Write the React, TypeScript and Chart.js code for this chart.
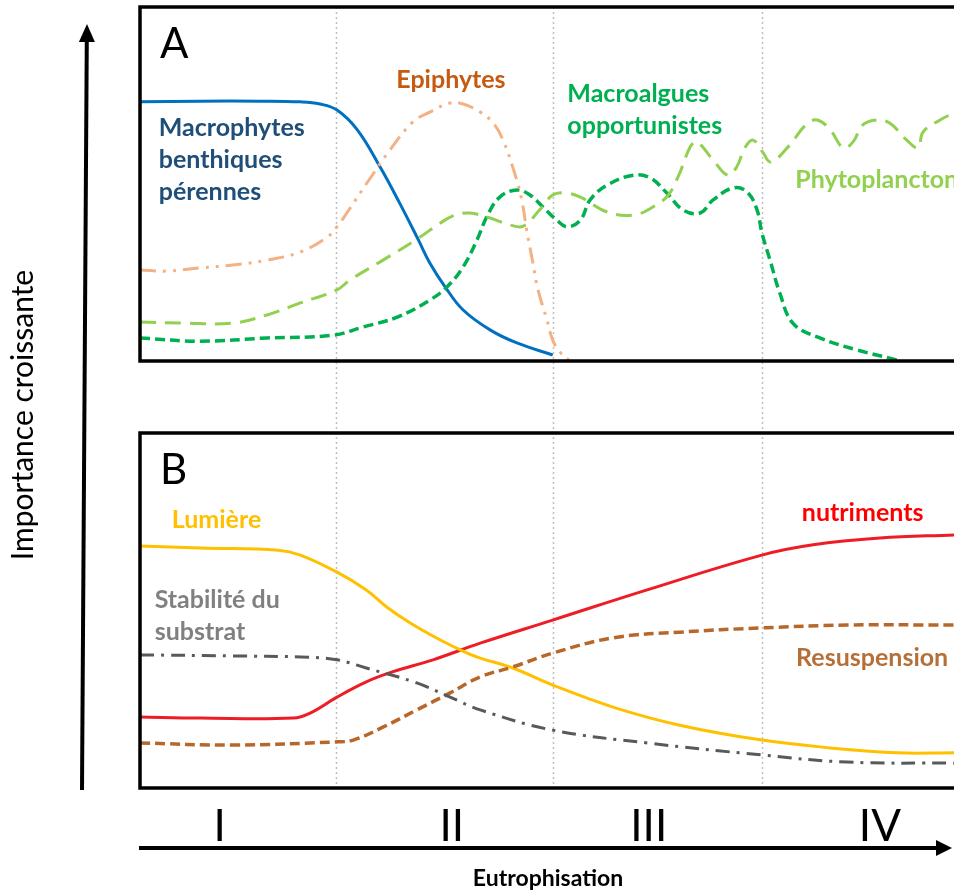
import React, { useEffect, useRef } from 'react';
import { Chart, registerables } from 'chart.js';

Chart.register(...registerables);

// ---------- Data (x: eutrophisation level 0-100, y: relative importance 0-100) ----------
const stageLabels = ['I', 'II', 'III', 'IV'];
const stageCenters = [9.8, 38.3, 62.5, 90.9];
const stageBoundaries = [24.1, 50.7, 76.4];

// Panel A
const macrophytesX = [0, 7.4, 14.7, 19.7, 22.1, 24.2, 26.7, 29.5, 31.9, 34.2, 35.6, 37.5, 39.7, 43.0, 46.3, 50.7];
const macrophytesY = [73.2, 73.4, 73.4, 73.2, 72.6, 70.9, 65.3, 54.8, 44.6, 34.2, 27.7, 20.9, 14.4, 8.8, 5.1, 1.7];

const epiphytesX = [0, 3.3, 7.4, 11.4, 15.6, 19.7, 23.0, 24.2, 25.4, 28.3, 30.7, 33.5, 35.6, 38.1, 39.7, 41.8, 43.4, 44.6, 46.1, 46.9, 47.5, 48.2, 48.9, 50.0, 50.7, 51.6, 52.8];
const epiphytesY = [25.7, 25.4, 26.3, 27.1, 28.5, 30.8, 35.0, 37.9, 41.8, 51.7, 59.6, 67.5, 70.3, 72.9, 72.6, 70.3, 67.2, 62.4, 52.5, 45.5, 37.0, 28.5, 20.1, 11.6, 5.9, 2.5, 0];

const phytoX = [0, 5.3, 11.4, 15.6, 19.7, 24.2, 25.8, 29.5, 34.2, 36.9, 38.7, 40.5, 43.0, 45.5, 47.1, 49.1, 50.7, 52.2, 54.1, 57.4, 60.6, 63.0, 64.9, 66.3, 67.6, 68.4, 70.4, 72.2, 73.3, 74.3, 75.3, 76.5, 77.5, 79.7, 81.8, 83.2, 84.8, 86.4, 87.6, 88.8, 90.5, 92.1, 94.2, 95.6, 96.2, 98.3, 100];
const phytoY = [11.0, 10.7, 10.7, 13.0, 16.4, 20.1, 22.9, 28.0, 34.7, 39.0, 41.2, 41.8, 40.4, 38.4, 38.1, 42.7, 46.9, 47.5, 46.3, 42.1, 41.2, 43.5, 46.9, 53.1, 60.5, 61.9, 56.8, 52.5, 54.8, 60.2, 62.4, 59.0, 56.2, 60.7, 66.7, 68.1, 65.3, 60.2, 61.9, 66.7, 68.1, 67.2, 62.4, 60.2, 64.7, 68.1, 70.1];

const macroalguesX = [0, 7.4, 15.6, 23.7, 27.4, 31.6, 35.6, 37.7, 39.7, 41.4, 42.6, 44.2, 46.3, 47.9, 49.5, 51.2, 52.5, 54.1, 55.3, 57.4, 60.6, 62.7, 64.7, 66.7, 68.8, 70.4, 72.9, 74.6, 75.8, 76.4, 77.4, 78.6, 80.2, 83.2, 88.1, 92.1, 93.4];
const macroalguesY = [6.5, 5.6, 6.5, 7.3, 9.6, 12.4, 17.2, 20.9, 26.6, 34.2, 40.7, 46.3, 48.3, 46.9, 43.5, 39.8, 37.9, 39.8, 45.5, 49.7, 52.5, 51.7, 47.5, 42.7, 41.8, 45.5, 48.9, 47.7, 42.7, 36.2, 28.5, 19.2, 10.7, 6.8, 3.1, 0.8, 0];

// Panel B
const lumiereX = [0, 7.4, 17.0, 19.7, 24.2, 27.8, 30.3, 33.2, 36.9, 40.2, 41.8, 45.8, 50.7, 58.1, 66.3, 76.4, 84.8, 93.0, 100];
const lumiereY = [68.2, 67.6, 67.0, 65.6, 60.8, 55.8, 51.0, 46.5, 41.7, 38.0, 36.6, 33.8, 29.0, 22.8, 17.7, 13.5, 11.3, 9.9, 9.9];

const stabiliteX = [0, 11.4, 19.7, 24.2, 27.8, 34.0, 38.1, 41.8, 50.7, 62.3, 76.4, 86.9, 100];
const stabiliteY = [37.5, 37.2, 36.9, 36.1, 33.8, 29.6, 25.6, 22.0, 16.3, 12.7, 9.3, 7.3, 7.0];

const nutrimentsX = [0, 7.4, 18.8, 20.9, 24.2, 27.8, 31.0, 36.0, 41.8, 50.7, 62.3, 76.4, 82.7, 90.9, 100];
const nutrimentsY = [20.0, 19.7, 19.7, 21.1, 25.6, 29.9, 32.7, 36.1, 40.8, 47.3, 55.8, 65.6, 68.5, 70.4, 71.3];

const resuspensionX = [0, 11.4, 24.2, 26.2, 29.9, 34.0, 38.1, 41.8, 45.8, 50.7, 58.1, 66.3, 76.4, 86.9, 100];
const resuspensionY = [12.7, 12.1, 13.0, 13.5, 17.2, 22.0, 26.8, 31.3, 34.1, 38.0, 42.3, 43.9, 45.1, 45.9, 45.9];

// ---------- Layout / style ----------
const W = 954;
const H = 890;
const PANEL_LEFT = 140;
const PANEL_A = { top: 7, bottom: 361 };
const PANEL_B = { top: 433, bottom: 788 };
const FONT = 'Lato, "Open Sans", "DejaVu Sans", sans-serif';

const pts = (xs: number[], ys: number[]) => xs.map((x, i) => ({ x, y: ys[i] }));

type Label = { lines: string[]; x: number; y: number; color: string; align: CanvasTextAlign };

const labelsA: Label[] = [
  { lines: ['Macrophytes', 'benthiques', 'pérennes'], x: 2.3, y: 65.8, color: '#1F4E79', align: 'left' },
  { lines: ['Epiphytes'], x: 38.2, y: 79.4, color: '#C55A11', align: 'center' },
  { lines: ['Macroalgues', 'opportunistes'], x: 52.5, y: 75.4, color: '#00B050', align: 'left' },
  { lines: ['Phytoplancton'], x: 80.5, y: 51.1, color: '#92D050', align: 'left' },
];
const labelsB: Label[] = [
  { lines: ['Lumière'], x: 3.9, y: 75.5, color: '#FFC000', align: 'left' },
  { lines: ['Stabilité du', 'substrat'], x: 1.8, y: 53.0, color: '#808080', align: 'left' },
  { lines: ['nutriments'], x: 81.3, y: 77.5, color: '#FF0000', align: 'left' },
  { lines: ['Resuspension'], x: 80.6, y: 36.6, color: '#B5703A', align: 'left' },
];

function drawLabels(chart: any, labels: Label[]) {
  const { ctx, scales } = chart;
  ctx.save();
  ctx.font = `bold 25px ${FONT}`;
  ctx.textBaseline = 'middle';
  labels.forEach((l) => {
    ctx.fillStyle = l.color;
    ctx.textAlign = l.align;
    const px = scales.x.getPixelForValue(l.x);
    const py = scales.y.getPixelForValue(l.y);
    l.lines.forEach((t, i) => ctx.fillText(t, px, py + i * 32));
  });
  ctx.restore();
}

function drawFrame(chart: any, letter: string) {
  const { ctx, chartArea } = chart;
  ctx.save();
  ctx.strokeStyle = '#000';
  ctx.lineWidth = 3.5;
  ctx.lineCap = 'square';
  ctx.beginPath();
  ctx.moveTo(chartArea.right + 5, chartArea.top);
  ctx.lineTo(chartArea.left, chartArea.top);
  ctx.lineTo(chartArea.left, chartArea.bottom);
  ctx.lineTo(chartArea.right + 5, chartArea.bottom);
  ctx.stroke();
  ctx.fillStyle = '#000';
  ctx.font = `42px ${FONT}`;
  ctx.textAlign = 'left';
  ctx.textBaseline = 'alphabetic';
  ctx.fillText(letter, chartArea.left + 20, chartArea.top + 51);
  ctx.restore();
}

function arrowHead(ctx: CanvasRenderingContext2D, tipX: number, tipY: number, dirX: number, dirY: number, len: number, half: number) {
  const bx = tipX - dirX * len;
  const by = tipY - dirY * len;
  ctx.beginPath();
  ctx.moveTo(tipX, tipY);
  ctx.lineTo(bx - dirY * half, by + dirX * half);
  ctx.lineTo(bx + dirY * half, by - dirX * half);
  ctx.closePath();
  ctx.fill();
}

const panelAPlugin = {
  id: 'panelA',
  beforeDatasetsDraw(chart: any) {
    const { ctx, scales } = chart;
    ctx.save();
    ctx.strokeStyle = '#BFBFBF';
    ctx.lineWidth = 1.5;
    ctx.setLineDash([2, 3]);
    stageBoundaries.forEach((b) => {
      const x = Math.round(scales.x.getPixelForValue(b)) + 0.5;
      ctx.beginPath();
      ctx.moveTo(x, PANEL_A.top);
      ctx.lineTo(x, PANEL_B.bottom);
      ctx.stroke();
    });
    ctx.restore();
  },
  afterDatasetsDraw(chart: any) {
    drawFrame(chart, 'A');
    drawLabels(chart, labelsA);
  },
};

const panelBPlugin = {
  id: 'panelB',
  afterDatasetsDraw(chart: any) {
    drawFrame(chart, 'B');
    drawLabels(chart, labelsB);
  },
  afterDraw(chart: any) {
    const { ctx, scales } = chart;
    ctx.save();
    ctx.fillStyle = '#000';
    ctx.strokeStyle = '#000';
    // roman numerals
    ctx.font = `44px ${FONT}`;
    ctx.textAlign = 'center';
    ctx.textBaseline = 'alphabetic';
    stageLabels.forEach((s, i) => {
      ctx.fillText(s, scales.x.getPixelForValue(stageCenters[i]), 841);
    });
    // horizontal arrow
    ctx.lineWidth = 4;
    ctx.beginPath();
    ctx.moveTo(139, 848);
    ctx.lineTo(940, 848);
    ctx.stroke();
    arrowHead(ctx, 952, 848, 1, 0, 16, 8);
    ctx.font = `bold 23px ${FONT}`;
    ctx.fillText('Eutrophisation', 548, 886);
    // vertical arrow
    ctx.beginPath();
    ctx.moveTo(82, 790);
    ctx.lineTo(86.8, 38);
    ctx.stroke();
    const dx = 87 - 82, dy = 24 - 790;
    const n = Math.hypot(dx, dy);
    arrowHead(ctx, 87, 24, dx / n, dy / n, 18, 8);
    // y title
    ctx.translate(33, 415);
    ctx.rotate(-Math.PI / 2);
    ctx.font = `30px ${FONT}`;
    ctx.textAlign = 'center';
    ctx.textBaseline = 'alphabetic';
    ctx.fillText('Importance croissante', 0, 0);
    ctx.restore();
  },
};

const line = (label: string, data: any[], color: string, width: number, dash: number[] = []) => ({
  label,
  data,
  borderColor: color,
  backgroundColor: color,
  borderWidth: width,
  borderDash: dash,
  fill: false,
  pointRadius: 0,
  tension: 0.4,
  borderJoinStyle: 'round',
});

function baseOptions(padding: any) {
  return {
    responsive: false,
    animation: false,
    events: [],
    layout: { padding },
    plugins: { legend: { display: false }, tooltip: { enabled: false } },
    scales: {
      x: { type: 'linear', min: 0, max: 100, display: false },
      y: { type: 'linear', min: 0, max: 100, display: false },
    },
  };
}

export default function App() {
  const refA = useRef<HTMLCanvasElement>(null);
  const refB = useRef<HTMLCanvasElement>(null);

  useEffect(() => {
    const chartA = new Chart(refA.current as HTMLCanvasElement, {
      type: 'line',
      data: {
        datasets: [
          line('Epiphytes', pts(epiphytesX, epiphytesY), '#F4B183', 3, [16, 7, 3, 7, 3, 7]),
          line('Phytoplancton', pts(phytoX, phytoY), '#92D050', 3, [16, 9]),
          line('Macroalgues opportunistes', pts(macroalguesX, macroalguesY), '#00B050', 3.5, [10, 5]),
          line('Macrophytes benthiques pérennes', pts(macrophytesX, macrophytesY), '#0070C0', 3),
        ],
      },
      options: baseOptions({ left: PANEL_LEFT, right: 0, top: PANEL_A.top, bottom: H - PANEL_A.bottom }) as any,
      plugins: [panelAPlugin],
    } as any);
    const chartB = new Chart(refB.current as HTMLCanvasElement, {
      type: 'line',
      data: {
        datasets: [
          line('Stabilité du substrat', pts(stabiliteX, stabiliteY), '#595959', 3, [14, 7, 3, 7]),
          line('Resuspension', pts(resuspensionX, resuspensionY), '#B8672A', 3.5, [10, 5]),
          line('Lumière', pts(lumiereX, lumiereY), '#FFC000', 3),
          line('nutriments', pts(nutrimentsX, nutrimentsY), '#EE1C25', 3),
        ],
      },
      options: baseOptions({ left: PANEL_LEFT, right: 0, top: PANEL_B.top, bottom: H - PANEL_B.bottom }) as any,
      plugins: [panelBPlugin],
    } as any);
    return () => {
      chartA.destroy();
      chartB.destroy();
    };
  }, []);

  const canvasStyle: React.CSSProperties = { position: 'absolute', left: 0, top: 0, width: W, height: H };
  return (
    <div style={{ position: 'absolute', left: 0, top: 0, width: W, height: H, background: '#fff', overflow: 'hidden' }}>
      <canvas ref={refA} width={W} height={H} style={canvasStyle} />
      <canvas ref={refB} width={W} height={H} style={canvasStyle} />
    </div>
  );
}
